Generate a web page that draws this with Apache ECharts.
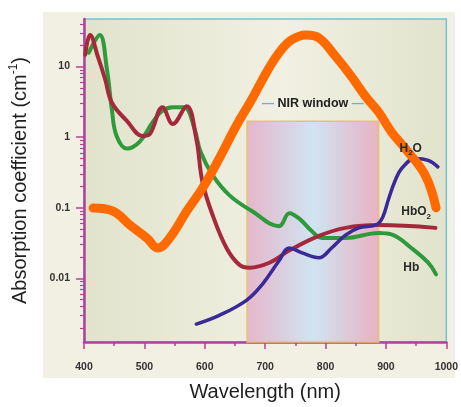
<!DOCTYPE html>
<html>
<head>
<meta charset="utf-8">
<script src="https://cdn.jsdelivr.net/npm/echarts@6/dist/echarts.min.js"></script>
<style>
  html, body { margin: 0; padding: 0; background: #fff; }
  #chart { width: 461px; height: 407px; }
</style>
</head>
<body>
<div id="chart"></div>
<script>
// wavelength (nm), absorption coefficient (cm-1)
const hb = [[408,15.7],[426,28],[438,9.1],[446,2.5],[454,1.04],[471,0.69],[492,0.86],[514,1.64],[529,2.34],[547,2.66],[566,2.66],[583,1.31],[593,0.62],[613,0.29],[641,0.15],[678,0.09],[723,0.055],[740,0.084],[756,0.071],[777,0.047],[794,0.0375],[833,0.0375],[888,0.044],[909,0.042],[942,0.027],[970,0.0167],[983,0.0114]];
const hbo2 = [[402,14.7],[410,28],[423,13.8],[435,6.6],[446,3.1],[471,1.7],[497,1.04],[509,1.11],[530,2.66],[547,1.54],[570,2.75],[586,0.95],[596,0.236],[613,0.079],[636,0.027],[657,0.0157],[674,0.0142],[707,0.0167],[739,0.0246],[789,0.040],[833,0.052],[888,0.057],[982,0.052]];
const h2o = [[586,0.00226],[624,0.0030],[669,0.0049],[695,0.0082],[723,0.0178],[740,0.027],[761,0.023],[789,0.0196],[810,0.027],[833,0.041],[855,0.052],[885,0.058],[895,0.075],[904,0.13],[915,0.24],[926,0.36],[949,0.50],[970,0.47],[986,0.38]];
const orange = [[415,0.099],[448,0.0895],[476,0.057],[504,0.0375],[522,0.027],[542,0.0375],[570,0.0895],[596,0.188],[624,0.50],[652,1.44],[678,3.44],[702,8.2],[723,15.7],[744,23.9],[768,28],[789,25.5],[817,13.8],[843,7.2],[866,3.8],[888,2.26],[909,1.19],[932,0.69],[965,0.29],[983,0.1]];

const nirRange = [670, 888];
const nirTop = 1.68;

const xTicks = [400, 1000, 100];
const yRange = [0.00126, 47.1];
const yMajor = [0.01, 0.1, 1, 10];
let yMinor = [];
[0.001, 0.01, 0.1, 1, 10].forEach(function (d) {
  for (let k = 2; k <= 9; k++) {
    let v = +(d * k).toPrecision(3);
    if (v > yRange[0] && v < yRange[1]) yMinor.push(v);
  }
});

const magenta = '#b2409c';
const font = 'Liberation Sans, Arial, sans-serif';

let myChart = echarts.init(document.getElementById('chart'));

let sub = { fontSize: 8, fontWeight: 'bold', fontFamily: font, color: '#2a2a2a', verticalAlign: 'bottom', lineHeight: 17 };
function curveLabel(coord, text) {
  return {
    silent: true,
    symbol: 'circle',
    symbolSize: 1,
    itemStyle: { color: 'rgba(0,0,0,0)' },
    label: {
      show: true,
      position: 'inside',
      formatter: text,
      fontSize: 12,
      fontWeight: 'bold',
      fontFamily: font,
      color: '#2a2a2a',
      rich: { s: sub }
    },
    data: [{ coord: coord }]
  };
}

function curve(name, data, color, width) {
  return {
    name: name,
    type: 'line',
    data: data,
    smooth: 0.4,
    symbol: 'none',
    z: 3,
    lineStyle: { color: color, width: width, cap: 'round', join: 'round' }
  };
}

let series = [
  {
    name: 'NIR window',
    type: 'line',
    data: [],
    z: 1,
    markArea: {
      silent: true,
      itemStyle: {
        color: new echarts.graphic.LinearGradient(0, 0, 1, 0, [
          { offset: 0, color: '#e6b6ca' },
          { offset: 0.5, color: '#d0e4f1' },
          { offset: 1, color: '#e8b2c3' }
        ]),
        borderColor: '#e6c272',
        borderWidth: 1.5
      },
      label: {
        show: true,
        position: 'top',
        distance: 10,
        formatter: '{d|—} NIR window {d|—}',
        fontSize: 12.5,
        fontWeight: 'bold',
        fontFamily: font,
        color: '#222',
        rich: { d: { color: '#5cb8d2', fontSize: 12, fontWeight: 'bold' } }
      },
      data: [[{ xAxis: nirRange[0], yAxis: yRange[0] }, { xAxis: nirRange[1], yAxis: nirTop }]]
    }
  },
  curve('Hb', hb, '#2f9a3c', 4),
  curve('HbO2', hbo2, '#a6283b', 4),
  curve('H2O', h2o, '#3a2a98', 3.5),
  curve('scattering', orange, '#ff6a00', 9)
];
series[3].markPoint = curveLabel([941, 0.685], 'H{s|2}O');
series[2].markPoint = curveLabel([950, 0.087], 'HbO{s|2}');
series[1].markPoint = curveLabel([942, 0.0142], 'Hb');

let option = {
  animation: false,
  graphic: [{
    type: 'rect',
    z: -100,
    silent: true,
    shape: { x: 43, y: 12, width: 412, height: 366 },
    style: { fill: '#f2f0e2' }
  }],
  grid: {
    left: 84, right: 13, top: 19, bottom: 62,
    show: true,
    borderColor: '#72c4d6',
    borderWidth: 1.5,
    backgroundColor: new echarts.graphic.LinearGradient(0, 0, 1, 0, [
      { offset: 0, color: '#e1e3cb' },
      { offset: 0.55, color: '#f1f0e3' },
      { offset: 1, color: '#e1e3cc' }
    ])
  },
  xAxis: {
    type: 'value',
    min: xTicks[0],
    max: xTicks[1],
    interval: xTicks[2],
    name: 'Wavelength (nm)',
    nameLocation: 'middle',
    nameGap: 40,
    nameTextStyle: { fontSize: 20, color: '#1e1e1e', fontFamily: font },
    axisLine: { lineStyle: { color: magenta, width: 2.5 } },
    axisTick: { length: 7, lineStyle: { color: magenta, width: 1.5 } },
    minorTick: { show: true, splitNumber: 2, length: 4, lineStyle: { color: magenta, width: 1.5 } },
    splitLine: { show: false },
    axisLabel: {
      margin: 20, fontSize: 10.5, fontWeight: 'bold', color: '#333', fontFamily: font,
      formatter: function (v) { return String(v); }
    }
  },
  yAxis: [
    {
      type: 'log',
      logBase: 10,
      min: yRange[0],
      max: yRange[1],
      name: 'Absorption coefficient (cm{sup|-1})',
      nameLocation: 'middle',
      nameGap: 52,
      nameTextStyle: {
        fontSize: 20, color: '#1e1e1e', fontFamily: font,
        rich: { sup: { fontSize: 12, color: '#1e1e1e', fontFamily: font, verticalAlign: 'top', lineHeight: 24 } }
      },
      axisLine: { show: true, lineStyle: { color: magenta, width: 2.5 } },
      axisTick: { show: true, length: 8, customValues: yMajor, lineStyle: { color: magenta, width: 1.5 } },
      splitLine: { show: false },
      axisLabel: {
        customValues: yMajor,
        margin: 14,
        fontSize: 10.5,
        fontWeight: 'bold',
        color: '#333',
        fontFamily: font,
        formatter: function (v) { return String(v); }
      }
    },
    {
      type: 'log',
      logBase: 10,
      min: yRange[0],
      max: yRange[1],
      position: 'left',
      axisLine: { show: false },
      axisTick: { show: true, length: 4, customValues: yMinor, lineStyle: { color: magenta, width: 1.2 } },
      axisLabel: { show: false },
      splitLine: { show: false }
    }
  ],
  series: series
};
myChart.setOption(option);
</script>
</body>
</html>
